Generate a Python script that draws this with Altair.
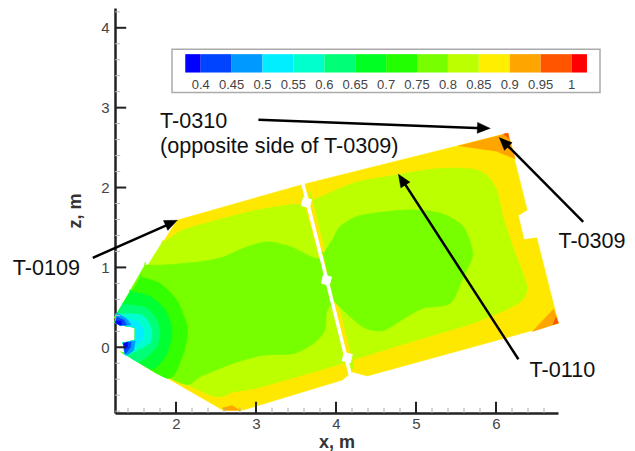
import math
import altair as alt
import pandas as pd

# --- colour bar ---
LEVEL_EDGES = [0.375, 0.4, 0.45, 0.5, 0.55, 0.6, 0.65, 0.7, 0.75, 0.8, 0.85, 0.9, 0.95, 1.0, 1.025]
LEVEL_COLORS = ["#0000FF", "#0044FF", "#0099FF", "#00EEFF", "#00FFCC", "#00FF77", "#00FF22",
                "#22FF00", "#77FF00", "#BBFF00", "#FFEE00", "#FFA500", "#FF5500", "#FF0000"]
LEVEL_LABELS = ["0.4", "0.45", "0.5", "0.55", "0.6", "0.65", "0.7", "0.75", "0.8", "0.85", "0.9", "0.95", "1"]
LEVEL_TICKS = [0.4, 0.45, 0.5, 0.55, 0.6, 0.65, 0.7, 0.75, 0.8, 0.85, 0.9, 0.95, 1.0]

# --- plate contour bands, (x, z) in metres ---
TIP = [(1.36, -0.08), (1.34, 0.05), (1.49, 0.09), (1.49, 0.25), (1.30, 0.28), (1.24, 0.31), (1.25, 0.40)]
OUTLINE = [(2.01, 1.59), (3.55, 2.03), (6.15, 2.68), (6.39, 1.72), (6.28, 1.65), (6.35, 1.35), (6.51, 1.37),
           (6.78, 0.30), (4.39, -0.36), (4.21, -0.31), (4.15, -0.35), (4.08, -0.41), (2.83, -0.79), (2.59, -0.79)] + TIP
LEFT_LIME = [(1.82, 1.30), (2.09, 1.47), (2.43, 1.57), (2.93, 1.70), (3.38, 1.78), (3.60, 1.79), (4.15, -0.18),
             (3.72, -0.31), (3.05, -0.50), (2.72, -0.56), (2.43, -0.60)] + TIP
RIGHT_LIME = [(3.71, 1.84), (4.05, 1.99), (4.26, 2.07), (4.76, 2.16), (5.30, 2.24), (5.71, 2.23), (5.88, 2.16),
              (6.01, 1.97), (6.09, 1.63), (6.21, 1.26), (6.38, 0.80), (6.36, 0.63), (6.21, 0.51), (5.71, 0.30),
              (4.88, 0.05), (4.21, -0.16)]
LEFT_GREEN = [(1.61, 1.03), (1.84, 1.03), (2.30, 1.07), (2.59, 1.13), (2.84, 1.24), (3.13, 1.32), (3.43, 1.26),
              (3.72, 1.12), (3.82, 1.12), (3.93, 0.55), (3.88, 0.42), (3.86, 0.21), (3.72, 0.05), (3.47, -0.08),
              (3.09, -0.10), (2.72, -0.20), (2.30, -0.37), (2.09, -0.46)] + TIP
RIGHT_GREEN = [(3.84, 1.17), (3.95, 1.34), (4.05, 1.51), (4.30, 1.65), (4.88, 1.72), (5.30, 1.68), (5.59, 1.51),
               (5.71, 1.17), (5.59, 0.88), (5.43, 0.55), (5.09, 0.49), (4.88, 0.38), (4.59, 0.21), (4.34, 0.25),
               (4.05, 0.50), (3.97, 0.59)]
RING_1 = [(1.56, 0.88), (1.80, 0.80), (2.01, 0.59), (2.13, 0.30), (2.14, 0.13), (2.07, -0.14), (1.90, -0.39)] + TIP
RING_2 = [(1.43, 0.70), (1.69, 0.63), (1.88, 0.44), (1.95, 0.18), (1.88, -0.09), (1.70, -0.27)] + TIP
RING_3 = [(1.34, 0.54), (1.61, 0.50), (1.75, 0.36), (1.80, 0.18), (1.75, -0.01), (1.54, -0.18)] + TIP
RING_4 = [(1.26, 0.42), (1.56, 0.41), (1.66, 0.31), (1.70, 0.18), (1.66, 0.04), (1.39, -0.10)] + TIP
RING_5 = [(1.51, 0.33), (1.58, 0.26), (1.60, 0.18), (1.58, 0.09), (1.51, 0.03)] + TIP
TIP_A1 = [(1.26, 0.43), (1.38, 0.36), (1.44, 0.28), (1.30, 0.27), (1.24, 0.31)]
TIP_A2 = [(1.26, 0.38), (1.35, 0.34), (1.38, 0.28), (1.30, 0.28), (1.24, 0.31)]
TIP_A3 = [(1.25, 0.33), (1.31, 0.33), (1.32, 0.28), (1.30, 0.28), (1.24, 0.31)]
TIP_B1 = [(1.34, 0.05), (1.49, 0.08), (1.47, -0.04), (1.39, -0.10), (1.36, -0.08)]
TIP_B2 = [(1.34, 0.05), (1.44, 0.07), (1.43, 0.0), (1.38, -0.07), (1.36, -0.08)]
TIP_B3 = [(1.34, 0.05), (1.40, 0.06), (1.39, 0.0), (1.36, -0.02)]
CORNER_TOP = [(5.53, 2.52), (6.15, 2.68), (6.24, 2.36), (6.01, 2.45)]
CORNER_TOP_HOT = [(6.09, 2.67), (6.15, 2.68), (6.16, 2.61)]
CORNER_RIGHT = [(6.45, 0.19), (6.72, 0.48), (6.78, 0.30)]
CORNER_RIGHT_HOT = [(6.71, 0.28), (6.75, 0.38), (6.78, 0.30)]
CORNER_BOTTOM = [(2.58, -0.76), (2.70, -0.73), (2.80, -0.79), (2.61, -0.79)]
SHARP = TIP + [(3.60, 1.79), (4.15, -0.18), (3.82, 1.12), (3.93, 0.55)]

BANDS = [
    (OUTLINE, "#FFE800", False), (LEFT_LIME, "#BBFF00", True), (RIGHT_LIME, "#BBFF00", True),
    (LEFT_GREEN, "#77FF00", True), (RIGHT_GREEN, "#77FF00", True),
    (RING_1, "#33FF00", True), (RING_2, "#00FF33", True), (RING_3, "#00FF77", True),
    (RING_4, "#00FFCC", True), (RING_5, "#00EEFF", True),
    (TIP_A1, "#0099FF", False), (TIP_A2, "#0044FF", False), (TIP_A3, "#0000FF", False),
    (TIP_B1, "#0099FF", False), (TIP_B2, "#0044FF", False), (TIP_B3, "#0000FF", False),
    (CORNER_TOP, "#FFA500", False), (CORNER_TOP_HOT, "#FF5500", False),
    (CORNER_RIGHT, "#FFA500", False), (CORNER_RIGHT_HOT, "#FF5500", False),
    (CORNER_BOTTOM, "#FFA500", False),
]

# --- slot between plates and its clips ---
SLOT = [(3.58, 2.07), (4.19, -0.39)]
CLIPS = [(3.63, 1.81), (3.88, 0.84), (4.14, -0.13)]

# --- annotations ---
NOTES = [
    ("T-0109", -0.04, 0.90), ("T-0310", 1.80, 2.74), ("(opposite side of T-0309)", 1.80, 2.43),
    ("T-0309", 6.78, 1.24), ("T-0110", 6.42, -0.37),
]
ARROWS = [
    ((0.96, 1.12), (2.02, 1.59)),
    ((3.03, 2.85), (5.93, 2.74)),
    ((7.09, 1.57), (6.04, 2.63)),
    ((6.28, -0.15), (4.78, 2.17)),
]

# --- axes ---
X_MAJOR = [2, 3, 4, 5, 6]
Z_MAJOR = [0, 1, 2, 3, 4]
X_MINOR = [1.4, 1.6, 1.8, 2.2, 2.4, 2.6, 2.8, 3.2, 3.4, 3.6, 3.8, 4.2, 4.4, 4.6, 4.8, 5.2, 5.4, 5.6, 5.8, 6.2, 6.4, 6.6]
Z_MINOR = [-0.8, -0.6, -0.4, -0.2, 0.2, 0.4, 0.6, 0.8, 1.2, 1.4, 1.6, 1.8, 2.2, 2.4, 2.6, 2.8, 3.2, 3.4, 3.6, 3.8, 4.2]
X_RANGE = [1.2375, 6.775]
Z_RANGE = [-0.823, 4.248]
AX_X, AX_Z = X_RANGE[0], Z_RANGE[0]
FONT = "Liberation Sans"

xs = alt.Scale(domain=X_RANGE, nice=False, zero=False)
zs = alt.Scale(domain=Z_RANGE, nice=False, zero=False)
x_axis = alt.Axis(
    values=X_MAJOR, format="d", ticks=False, grid=False, domainColor="#222", domainWidth=2.5,
    labelFont=FONT, labelFontSize=15, labelColor="#444", labelPadding=3,
    titleFont=FONT, titleFontSize=18, titleFontWeight="bold", titleColor="#333", titlePadding=2)
y_axis = alt.Axis(
    values=Z_MAJOR, format="d", ticks=False, grid=False, domainColor="#222", domainWidth=2.5,
    labelFont=FONT, labelFontSize=15, labelColor="#444", labelPadding=6,
    titleFont=FONT, titleFontSize=18, titleFontWeight="bold", titleColor="#333", titlePadding=16)
X = alt.X("x:Q", scale=xs, axis=x_axis, title="x, m")
Y = alt.Y("z:Q", scale=zs, axis=y_axis, title="z, m")


def bar_x(v):
    return 2.309 + (v - 0.4) * 7.725


def poly(points, fill, smooth=False):
    seq = []
    for j, p in enumerate(points):
        seq.append(p)
        # repeating a point keeps a real corner sharp in the closed curve
        if smooth and (j == 0 or j == len(points) - 1 or p in SHARP):
            seq.append(p)
    df = pd.DataFrame([{"x": p[0], "z": p[1], "i": i} for i, p in enumerate(seq)])
    kw = {"interpolate": "cardinal-closed", "tension": 0.25} if smooth else {}
    return alt.Chart(df).mark_line(fill=fill, stroke=fill, strokeWidth=0.5, **kw).encode(X, Y, order="i:Q")


layers = []

# plate
for pts, col, smooth in BANDS:
    layers.append(poly(pts, col, smooth))

# slot and clips
slot_df = pd.DataFrame({"x": [SLOT[0][0]], "z": [SLOT[0][1]], "x2": [SLOT[1][0]], "z2": [SLOT[1][1]]})
layers.append(alt.Chart(slot_df).mark_rule(color="white", strokeWidth=3.5).encode(X, Y, x2="x2:Q", y2="z2:Q"))
clip_df = pd.DataFrame({"x": [c[0] for c in CLIPS], "z": [c[1] for c in CLIPS]})
layers.append(alt.Chart(clip_df).mark_point(shape="square", filled=True, color="white", size=85, opacity=1, angle=14).encode(X, Y))

# inward ticks
def ticks(values, vertical, length, color, width):
    if vertical:
        df = pd.DataFrame({"x": values, "z": AX_Z, "z2": AX_Z + length})
        return alt.Chart(df).mark_rule(color=color, strokeWidth=width).encode(X, Y, y2="z2:Q")
    df = pd.DataFrame({"z": values, "x": AX_X, "x2": AX_X + length})
    return alt.Chart(df).mark_rule(color=color, strokeWidth=width).encode(X, Y, x2="x2:Q")

layers += [
    ticks(X_MINOR, True, 0.065, "#aaa", 1), ticks(Z_MINOR, False, 0.065, "#bbb", 1),
    ticks(X_MAJOR, True, 0.14, "#222", 2), ticks(Z_MAJOR, False, 0.14, "#222", 2),
]

# colour bar
frame = pd.DataFrame({"x": [1.95], "x2": [7.30], "z": [3.19], "z2": [3.73]})
layers.append(alt.Chart(frame).mark_rect(fill="white", stroke="#aaa", strokeWidth=1.5).encode(X, Y, x2="x2:Q", y2="z2:Q"))
cells = pd.DataFrame({
    "x": [bar_x(v) for v in LEVEL_EDGES[:-1]], "x2": [bar_x(v) for v in LEVEL_EDGES[1:]],
    "z": 3.44, "z2": 3.67, "c": LEVEL_COLORS,
})
layers.append(alt.Chart(cells).mark_rect().encode(X, Y, x2="x2:Q", y2="z2:Q", color=alt.Color("c:N", scale=None)))
bar_labels = pd.DataFrame({"x": [bar_x(v) for v in LEVEL_TICKS], "z": 3.23, "t": LEVEL_LABELS})
layers.append(alt.Chart(bar_labels).mark_text(font=FONT, fontSize=13, color="#444", align="center", baseline="alphabetic").encode(X, Y, text="t:N"))

# arrows
sx, sz = 80.0, 79.8
for tail, tip in ARROWS:
    dx, dy = (tip[0] - tail[0]) * sx, (tip[1] - tail[1]) * sz
    n = math.hypot(dx, dy)
    ux, uy = dx / n, dy / n
    stem_end = (tip[0] - ux * 8 / sx, tip[1] - uy * 8 / sz)
    stem = pd.DataFrame({"x": [tail[0]], "z": [tail[1]], "x2": [stem_end[0]], "z2": [stem_end[1]]})
    layers.append(alt.Chart(stem).mark_rule(color="black", strokeWidth=2.5).encode(X, Y, x2="x2:Q", y2="z2:Q"))
    base = (tip[0] * sx - ux * 13, tip[1] * sz - uy * 13)
    head = [tip,
            ((base[0] - uy * 5.5) / sx, (base[1] + ux * 5.5) / sz),
            ((base[0] + uy * 5.5) / sx, (base[1] - ux * 5.5) / sz)]
    layers.append(poly(head, "black"))

notes = pd.DataFrame({"t": [n[0] for n in NOTES], "x": [n[1] for n in NOTES], "z": [n[2] for n in NOTES]})
layers.append(alt.Chart(notes).mark_text(font=FONT, fontSize=21.6, color="#111", align="left", baseline="alphabetic").encode(X, Y, text="t:N"))

chart = alt.layer(*layers).properties(
    width=443, height=405,
    autosize=alt.AutoSizeParams(type="none"),
    padding={"left": 107, "top": 0, "right": 69, "bottom": 38},
    background="white",
).configure_view(stroke=None)

chart.save("out.html", embed_options={"renderer": "svg", "actions": False})
